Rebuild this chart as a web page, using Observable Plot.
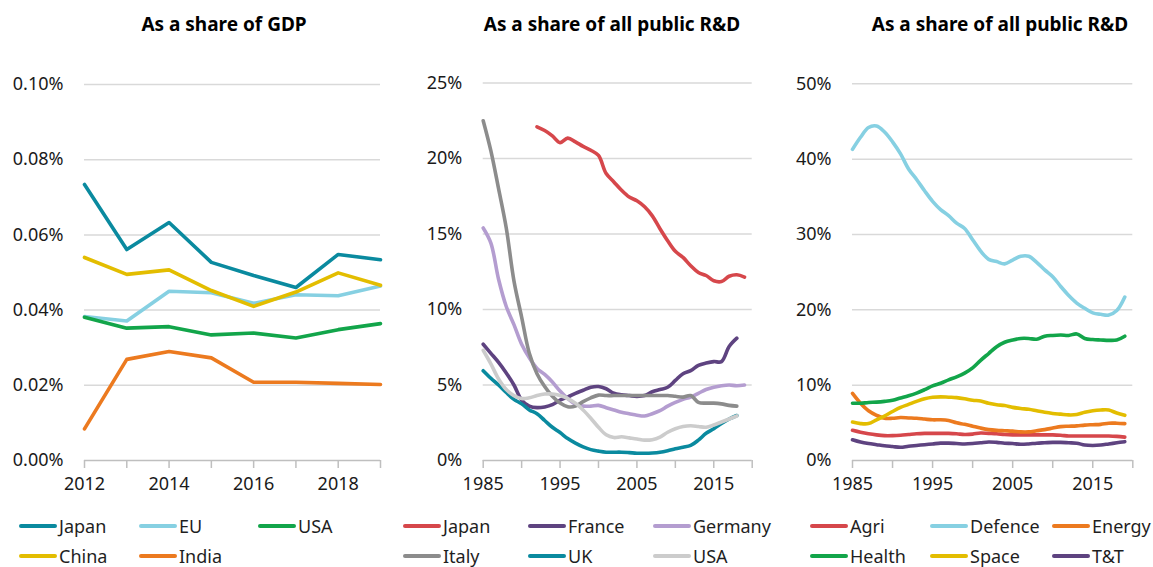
<!DOCTYPE html>
<html><head><meta charset="utf-8">
<script src="https://cdn.jsdelivr.net/npm/d3@7"></script>
<script src="https://cdn.jsdelivr.net/npm/@observablehq/plot@0.6"></script>
<style>
body{margin:0;background:#fff;font-family:"Noto Sans",sans-serif;}
#wrap{position:relative;width:1153px;height:567px;overflow:hidden;background:#fff;}
.title{position:absolute;top:13px;height:22px;line-height:22px;font-weight:bold;font-size:19px;text-align:center;color:#000;white-space:nowrap;}
.panel{position:absolute;top:60px;}
.item{position:absolute;height:24px;line-height:24px;display:flex;align-items:center;font-size:18px;color:#1f1f1f;white-space:nowrap;}
.sw{width:38px;height:4px;border-radius:2px;margin-right:2px;}
</style>
</head><body><div id="wrap"></div>
<script>
// ---------- Panel 1: As a share of GDP (values in %) ----------
const gdpYears = [2012, 2013, 2014, 2015, 2016, 2017, 2018, 2019];
const gdpJapan = [0.0734, 0.0561, 0.0633, 0.0527, 0.0492, 0.0460, 0.0548, 0.0534];
const gdpEU    = [0.0383, 0.0371, 0.0450, 0.0446, 0.0418, 0.0441, 0.0438, 0.0464];
const gdpUSA   = [0.0381, 0.0352, 0.0356, 0.0334, 0.0339, 0.0326, 0.0348, 0.0364];
const gdpChina = [0.0540, 0.0495, 0.0507, 0.0452, 0.0410, 0.0448, 0.0499, 0.0466];
const gdpIndia = [0.0084, 0.0269, 0.0290, 0.0273, 0.0208, 0.0208, 0.0205, 0.0202];
const gdpNames = ["Japan", "EU", "USA", "China", "India"];
const gdpColors = ["#0A8A9F", "#86D0E2", "#12A54A", "#E3BD00", "#EC7A1F"];

// ---------- Panel 2: As a share of all public R&D, by country (%) ----------
const ctyYears = [1985,1986,1987,1988,1989,1990,1991,1992,1993,1994,1995,1996,1997,1998,1999,2000,2001,2002,2003,2004,2005,2006,2007,2008,2009,2010,2011,2012,2013,2014,2015,2016,2017,2018,2019];
const ctyJapanYears = [1992,1993,1994,1995,1996,1997,1998,1999,2000,2001,2002,2003,2004,2005,2006,2007,2008,2009,2010,2011,2012,2013,2014,2015,2016,2017,2018,2019];
const ctyJapan   = [22.1,21.85,21.5,21.05,21.35,21.1,20.8,20.55,20.2,19.0,18.45,17.9,17.45,17.2,16.8,16.2,15.35,14.55,13.85,13.45,12.9,12.45,12.25,11.9,11.85,12.2,12.3,12.15];
const ctyFrance  = [7.7,7.1,6.5,5.8,5.0,4.0,3.6,3.5,3.55,3.7,4.0,4.2,4.45,4.65,4.85,4.9,4.75,4.45,4.35,4.3,4.25,4.3,4.55,4.7,4.85,5.3,5.75,5.95,6.3,6.45,6.55,6.55,7.55,8.1];
const ctyGermany = [15.4,14.4,12.0,10.2,9.0,7.7,6.8,6.1,5.7,5.2,4.6,4.1,3.72,3.6,3.6,3.65,3.5,3.35,3.2,3.1,3.0,2.95,3.1,3.3,3.6,3.85,4.05,4.2,4.45,4.7,4.85,4.95,5.0,4.95,5.0];
const ctyItaly   = [22.5,20.5,18.0,15.4,11.9,9.5,7.1,5.75,4.9,4.25,3.8,3.56,3.6,3.9,4.15,4.33,4.3,4.3,4.3,4.3,4.3,4.3,4.3,4.3,4.3,4.25,4.2,4.3,3.85,3.8,3.8,3.75,3.65,3.6];
const ctyUK      = [5.95,5.45,5.0,4.5,4.05,3.75,3.35,3.1,2.65,2.2,1.85,1.45,1.15,0.9,0.72,0.62,0.55,0.55,0.55,0.52,0.48,0.48,0.5,0.55,0.65,0.78,0.88,1.0,1.35,1.8,2.1,2.45,2.75,2.98];
const ctyUSA     = [7.3,6.4,5.4,4.7,4.3,4.1,4.15,4.3,4.4,4.4,4.3,4.1,3.8,3.35,2.8,2.2,1.7,1.52,1.57,1.5,1.43,1.35,1.38,1.55,1.87,2.1,2.25,2.3,2.25,2.2,2.35,2.55,2.75,2.95];
const ctyNames = ["Japan", "France", "Germany", "Italy", "UK", "USA"];
const ctyColors = ["#D6474B", "#5E4380", "#B49DD0", "#8C8C8C", "#0A8A9F", "#CCCCCC"];

// ---------- Panel 3: As a share of all public R&D, by objective (%) ----------
const objYears = ctyYears;
const objAgri    = [4.0,3.75,3.55,3.4,3.3,3.3,3.35,3.45,3.55,3.6,3.6,3.6,3.6,3.55,3.45,3.5,3.65,3.6,3.55,3.45,3.4,3.4,3.4,3.4,3.4,3.4,3.35,3.25,3.25,3.25,3.25,3.25,3.25,3.2,3.1];
const objDefence = [41.3,42.9,44.2,44.4,43.6,42.3,40.7,38.7,37.3,35.8,34.4,33.3,32.5,31.5,30.8,29.3,27.8,26.7,26.4,26.1,26.6,27.1,27.1,26.3,25.3,24.4,23.1,21.9,20.9,20.2,19.6,19.4,19.3,19.9,21.7];
const objEnergy  = [8.9,7.6,6.6,6.0,5.6,5.6,5.7,5.65,5.6,5.5,5.4,5.4,5.3,5.0,4.8,4.55,4.3,4.1,4.0,3.95,3.9,3.8,3.8,3.95,4.1,4.3,4.5,4.55,4.6,4.7,4.75,4.8,4.95,4.95,4.9];
const objHealth  = [7.6,7.6,7.7,7.75,7.85,8.0,8.3,8.6,8.95,9.4,9.9,10.25,10.7,11.1,11.6,12.3,13.3,14.2,15.1,15.7,16.0,16.2,16.2,16.1,16.5,16.6,16.65,16.6,16.8,16.2,16.05,16.0,15.95,16.0,16.5];
const objSpace   = [5.1,4.9,4.9,5.4,5.9,6.5,7.05,7.45,7.85,8.2,8.4,8.45,8.4,8.35,8.2,8.0,7.9,7.6,7.4,7.3,7.05,6.9,6.8,6.6,6.4,6.25,6.15,6.05,6.1,6.4,6.6,6.7,6.7,6.3,6.0];
const objTT      = [2.75,2.45,2.25,2.1,1.95,1.85,1.75,1.9,2.0,2.1,2.2,2.3,2.3,2.25,2.2,2.25,2.35,2.45,2.4,2.3,2.25,2.15,2.2,2.3,2.35,2.4,2.4,2.35,2.3,2.05,2.0,2.05,2.2,2.35,2.5];
const objNames = ["Agri", "Defence", "Energy", "Health", "Space", "T&T"];
const objColors = ["#D6474B", "#86D0E2", "#EC7A1F", "#12A54A", "#E3BD00", "#5E4380"];

// ---------- helpers ----------
function series(name, years, values) {
  return values.map((v, i) => ({series: name, year: years[i], value: v}));
}
const wrap = document.getElementById("wrap");

function addTitle(text, center) {
  const d = document.createElement("div");
  d.className = "title";
  d.textContent = text;
  d.style.left = (center - 200) + "px";
  d.style.width = "400px";
  wrap.appendChild(d);
}

function addLegend(names, colors, cols, rows) {
  names.forEach((n, i) => {
    const it = document.createElement("div");
    it.className = "item";
    it.style.left = cols[i % 3] + "px";
    it.style.top = (rows[Math.floor(i / 3)] - 12) + "px";
    const sw = document.createElement("span");
    sw.className = "sw";
    sw.style.background = colors[i];
    const t = document.createElement("span");
    t.textContent = n;
    it.appendChild(sw); it.appendChild(t);
    wrap.appendChild(it);
  });
}

function panel({left, width, marginLeft, marginRight, marginTop, xDomain, yDomain, yTicks, yFormat, xTicks, xFormat, data, names, colors, curve}) {
  const chart = Plot.plot({
    width, height: 440,
    marginLeft, marginRight, marginTop, marginBottom: 40,
    style: {fontFamily: "'Noto Sans', sans-serif", fontSize: "18px", color: "#1a1a1a", background: "transparent", overflow: "visible"},
    x: {domain: xDomain, label: null},
    y: {domain: yDomain, label: null},
    color: {domain: names, range: colors},
    marks: [
      Plot.gridY(yTicks.filter(t => t > 0), {stroke: "#D9D9D9", strokeOpacity: 1, strokeWidth: 1.5}),
      Plot.ruleY([0], {stroke: "#BFBFBF", strokeWidth: 1.5}),
      Plot.axisY({ticks: yTicks, tickFormat: yFormat, tickSize: 0, tickPadding: 21, fill: "#1a1a1a"}),
      Plot.axisX({ticks: xTicks, tickFormat: xFormat, tickSize: 8, tickPadding: 9, stroke: "#BFBFBF", strokeWidth: 1.5, fill: "#1a1a1a"}),
      Plot.line(data, {x: "year", y: "value", z: "series", stroke: "series", strokeWidth: 3.6, curve, strokeLinejoin: "round", strokeLinecap: "round"})
    ]
  });
  chart.classList.add("panel");
  chart.style.left = left + "px";
  wrap.appendChild(chart);
}

// ---------- Panel 1 ----------
const gdpData = [
  ...series("Japan", gdpYears, gdpJapan),
  ...series("EU", gdpYears, gdpEU),
  ...series("USA", gdpYears, gdpUSA),
  ...series("China", gdpYears, gdpChina),
  ...series("India", gdpYears, gdpIndia)
];
panel({
  left: 0, width: 390, marginLeft: 84, marginRight: 10, marginTop: 24,
  xDomain: [2012, 2019], yDomain: [0, 0.10],
  yTicks: [0, 0.02, 0.04, 0.06, 0.08, 0.10], yFormat: d => d.toFixed(2) + "%",
  xTicks: gdpYears, xFormat: d => d % 2 === 0 ? String(d) : "",
  data: gdpData, names: gdpNames, colors: gdpColors, curve: "linear"
});
addTitle("As a share of GDP", 224);
addLegend(gdpNames, gdpColors, [19, 139, 258], [526, 556]);

// ---------- Panel 2 ----------
const ctyData = [
  ...series("Japan", ctyJapanYears, ctyJapan),
  ...series("France", ctyYears, ctyFrance),
  ...series("Germany", ctyYears, ctyGermany),
  ...series("Italy", ctyYears, ctyItaly),
  ...series("UK", ctyYears, ctyUK),
  ...series("USA", ctyYears, ctyUSA)
];
const fiveYearTicks = d3.range(1985, 2021, 5);
const decadeLabels = d => (d - 1985) % 10 === 0 ? String(d) : "";
panel({
  left: 390, width: 390, marginLeft: 92.7, marginRight: 28.3, marginTop: 22.5,
  xDomain: [1985, 2020], yDomain: [0, 25],
  yTicks: [0, 5, 10, 15, 20, 25], yFormat: d => d + "%",
  xTicks: fiveYearTicks, xFormat: decadeLabels,
  data: ctyData, names: ctyNames, colors: ctyColors, curve: "catmull-rom"
});
addTitle("As a share of all public R&D", 612);
addLegend(ctyNames, ctyColors, [403, 528, 653], [526, 556]);

// ---------- Panel 3 ----------
const objData = [
  ...series("Agri", objYears, objAgri),
  ...series("Defence", objYears, objDefence),
  ...series("Energy", objYears, objEnergy),
  ...series("Health", objYears, objHealth),
  ...series("Space", objYears, objSpace),
  ...series("T&T", objYears, objTT)
];
panel({
  left: 780, width: 373, marginLeft: 72, marginRight: 20.7, marginTop: 23.3,
  xDomain: [1985, 2020], yDomain: [0, 50],
  yTicks: [0, 10, 20, 30, 40, 50], yFormat: d => d + "%",
  xTicks: fiveYearTicks, xFormat: decadeLabels,
  data: objData, names: objNames, colors: objColors, curve: "catmull-rom"
});
addTitle("As a share of all public R&D", 1000);
addLegend(objNames, objColors, [810, 930, 1052], [526, 556]);
</script>
</body></html>
